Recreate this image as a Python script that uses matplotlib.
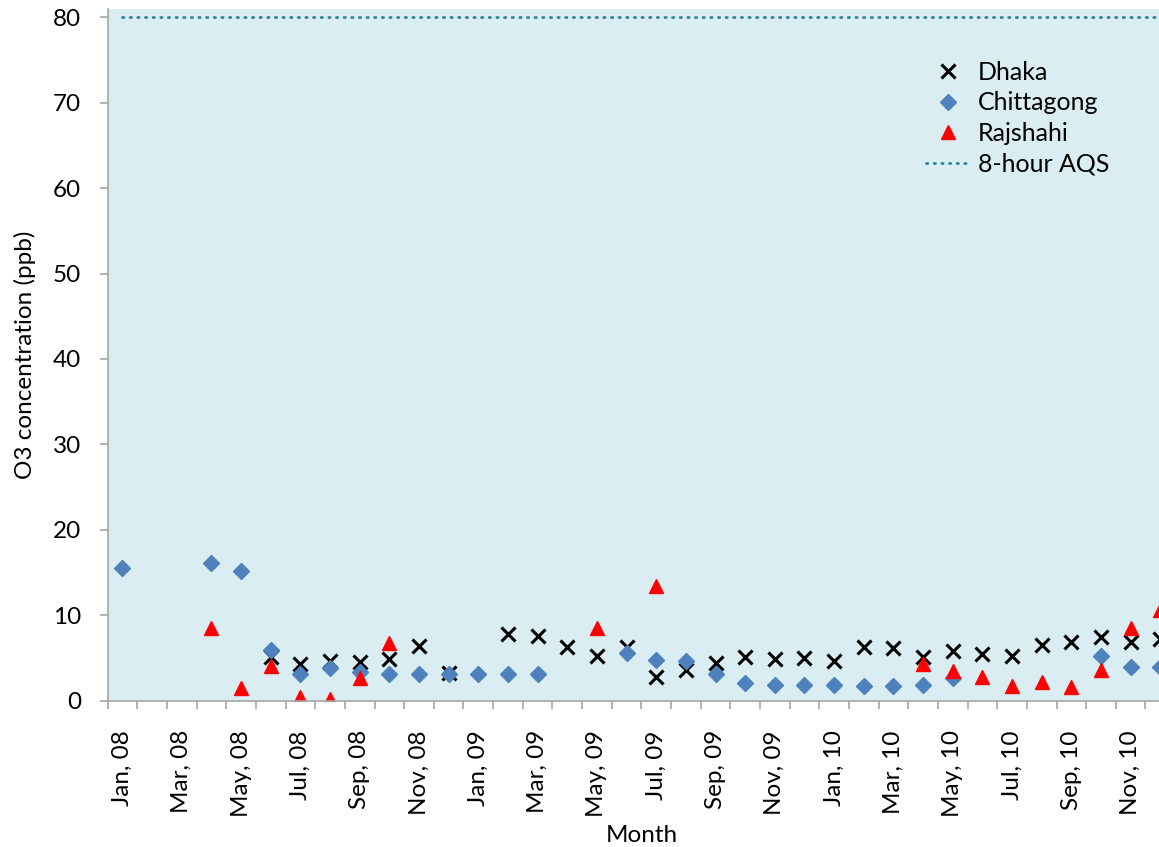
import numpy as np
import pandas as pd
import matplotlib
matplotlib.use('Agg')
import matplotlib.pyplot as plt

plt.rcParams['font.family'] = ['Lato', 'DejaVu Sans']

# === Данные: месячные средние O3 (ppb), янв 2008 – дек 2010 ===
months = pd.date_range('2008-01-01', periods=36, freq='MS')
month_labels = [m.strftime('%b, %y') for m in months]

nan = np.nan
dhaka = [nan, nan, nan, nan, nan, 5.2, 4.3, 4.7, 4.6, 4.9, 6.4, 3.3,
         nan, 7.8, 7.65, 6.3, 5.3, 6.3, 2.8, 3.6, 4.5, 5.1, 4.9, 5.0,
         4.7, 6.3, 6.15, 5.1, 5.85, 5.5, 5.3, 6.6, 6.85, 7.5, 6.95, 7.2]
chittagong = [15.6, nan, nan, 16.1, 15.2, 6.0, 3.1, 3.9, 3.4, 3.2, 3.2, 3.2,
              3.2, 3.2, 3.2, nan, nan, 5.6, 4.8, 4.7, 3.2, 2.15, 1.9, 1.9,
              1.9, 1.75, 1.75, 1.9, 2.65, nan, nan, nan, nan, 5.25, 4.0, 4.0]
rajshahi = [nan, nan, nan, 8.5, 1.5, 4.1, 0.5, 0.2, 2.7, 6.8, nan, nan,
            nan, nan, nan, nan, 8.5, nan, 13.5, nan, nan, nan, nan, nan,
            nan, nan, nan, 4.3, 3.55, 2.85, 1.8, 2.2, 1.6, 3.6, 8.5, 10.6]
aqs_8h = [80] * 36

x = np.arange(len(months))

fig = plt.figure(figsize=(11.59, 8.47), dpi=100)
ax = fig.add_axes([0.0929, 0.1724, 0.921, 0.817])
ax.set_facecolor('#DAEDF2')

ax.plot(x, dhaka, linestyle='none', marker='x', color='black', markersize=10,
        markeredgewidth=2.2, label='Dhaka')
ax.plot(x, chittagong, linestyle='none', marker='D', color='#4F81BD', markersize=8,
        label='Chittagong')
ax.plot(x, rajshahi, linestyle='none', marker='^', color='#FF0000', markersize=10,
        label='Rajshahi')
ax.plot(x, aqs_8h, linestyle=(0, (0.5, 2.25)), dash_capstyle='round', color='#31849B',
        linewidth=2, label='8-hour AQS')

ax.set_xlim(-0.5, 35.5)
ax.set_ylim(0, 80.94)
ax.set_yticks(np.arange(0, 81, 10))

ax.set_xticks(x[::2])
ax.set_xticklabels(month_labels[::2], rotation=90)
ax.set_xticks(np.arange(-0.5, 36, 1), minor=True)
ax.tick_params(axis='x', which='major', length=0, pad=21, labelsize=17.5)
ax.tick_params(axis='x', which='minor', length=6, color='#A6A6A6', width=1.2)
ax.tick_params(axis='y', length=6, color='#A6A6A6', width=1.2, pad=13, labelsize=17.5)

for side in ['top', 'right']:
    ax.spines[side].set_visible(False)
for side in ['left', 'bottom']:
    ax.spines[side].set_color('#A6A6A6')
    ax.spines[side].set_linewidth(1.2)

ax.set_xlabel('Month', fontsize=17.5, labelpad=6)
ax.set_ylabel('O3 concentration (ppb)', fontsize=17.5, labelpad=12)

ax.legend(loc='upper left', bbox_to_anchor=(0.767, 0.925), frameon=False, fontsize=18,
          handlelength=1.7, handletextpad=0.35, labelspacing=0.3, borderaxespad=0,
          borderpad=0)

fig.savefig('out.png', dpi=100)
